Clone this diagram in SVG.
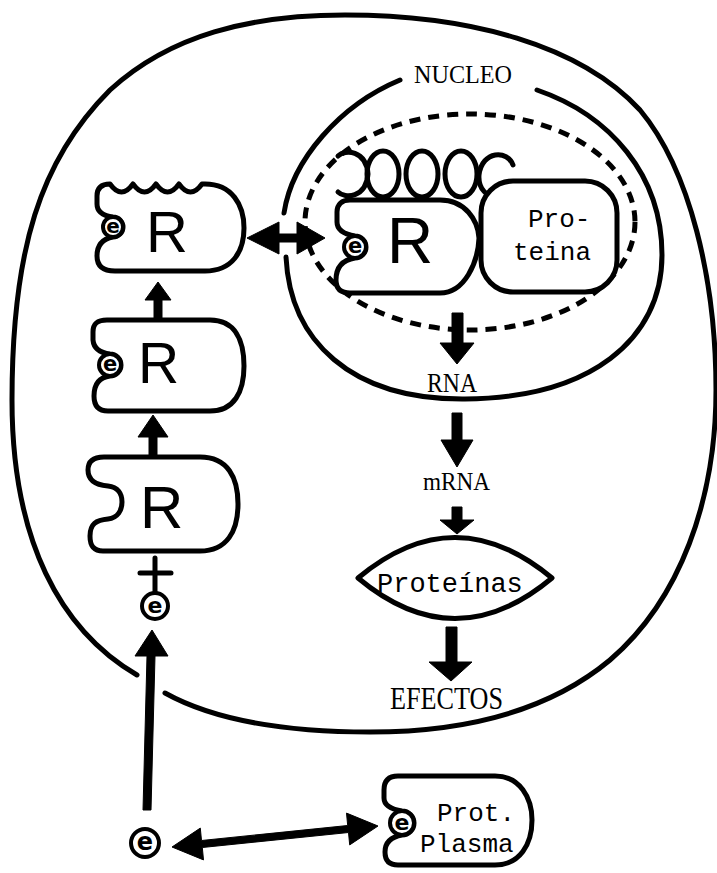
<svg xmlns="http://www.w3.org/2000/svg" width="717" height="873" viewBox="0 0 717 873">
<style>
.ol{fill:none;stroke:#000;stroke-width:5;stroke-linejoin:round;stroke-linecap:round}
.box{fill:#fff;stroke:#000;stroke-width:5;stroke-linejoin:round;stroke-linecap:round}
.dash{fill:none;stroke:#000;stroke-width:5;stroke-dasharray:11 8;stroke-linecap:butt}
.ec{fill:#fff;stroke:#000;stroke-width:4}
.e{font-family:"DejaVu Sans",sans-serif;font-weight:bold;text-anchor:middle;fill:#000}
.R{font-family:"Liberation Sans",Arial,sans-serif;fill:#000}
.cond{font-family:"Liberation Serif","Times New Roman",serif;fill:#000}
.mono{font-family:"Liberation Mono","Courier New",monospace;fill:#000}
.arr{fill:#000;stroke:#000;stroke-width:1;stroke-linejoin:round}
</style>
<rect width="717" height="873" fill="#fff"/>
<g id="cell">
<path class="ol" d="M137,675 C60,630 12,540 12,400 C12,250 40,160 110,90 C170,35 250,15 345,15 C470,15 580,45 640,110 C690,170 716,280 716,390 C716,500 680,600 610,660 C550,710 470,732 370,732 C280,732 210,718 165,693"/>
</g>
<g id="nucleo">
<path class="ol" d="M400,80 C340,105 292,160 284,213"/>
<path class="ol" d="M286,257 C290,340 350,400 465,399 C590,398 662,340 662,255 C662,175 610,115 537,90"/>
<text class="cond" x="414" y="83" font-size="26" textLength="98" lengthAdjust="spacingAndGlyphs">NUCLEO</text>
<ellipse class="dash" cx="470" cy="222" rx="165" ry="108"/>
</g>
<g id="cromatina">
<path class="ol" d="M338,156 C345,149 366,150 368,174 C366,198 345,199 338,192"/>
<ellipse class="ol" cx="383" cy="174" rx="16" ry="23"/>
<ellipse class="ol" cx="422" cy="174" rx="16" ry="23"/>
<ellipse class="ol" cx="461" cy="174" rx="16" ry="23"/>
<path class="ol" d="M513,165 C508,150 482,150 479,175 C478,190 488,197 497,197"/>
</g>
<g id="receptor-nuclear">
<path class="box" d="M337,212 C337,204 342,200 350,200 L440,200 C465,200 478,220 479,238 C478,262 465,293 440,293 L350,293 C340,293 336,288 336,280 Q336,261 355,258 A11,11 0 0 0 355,236 Q337,233 337,222 Z"/>
<circle class="ec" cx="355" cy="247" r="11"/>
<text class="e" x="355" y="253" font-size="21">e</text>
<text class="R" x="387" y="263" font-size="64">R</text>
</g>
<g id="proteina-nuclear">
<rect class="box" x="481" y="181" width="136" height="111" rx="32"/>
<text class="mono" x="528" y="227" font-size="26">Pro-</text>
<text class="mono" x="513" y="260" font-size="26">teina</text>
</g>
<g id="receptor-1">
<path class="box" d="M97,196 C97,188 101,184 110,184 Q121.5,200 133,184 Q144.5,200 156,184 Q167.5,200 179,184 Q190.5,200 202,184 L205,184 C232,184 244,205 244,228 C244,252 232,271 205,271 L115,271 C103,271 97,266 97,256 Q97,240 113,237 A10,10 0 0 0 113,217 Q97,215 97,204 Z"/>
<circle class="ec" cx="113" cy="227" r="10"/>
<text class="e" x="113" y="232.5" font-size="20">e</text>
<text class="R" x="146" y="252" font-size="58">R</text>
</g>
<g id="receptor-2">
<path class="box" d="M93,332 C93,323 98,320 107,320 L210,320 C235,320 244,340 244,366 C244,392 234,411 210,411 L108,411 C98,411 94,405 94,396 Q94,378 110,376 A11,11 0 0 0 110,354 Q94,352 93,340 Z"/>
<circle class="ec" cx="110" cy="365" r="11"/>
<text class="e" x="110" y="371" font-size="21">e</text>
<text class="R" x="138" y="383" font-size="57">R</text>
</g>
<g id="receptor-3">
<path class="box" d="M88,470 C88,461 94,457 104,457 L200,457 C228,457 238,478 238,504 C238,531 227,551 200,551 L103,551 C93,551 90,545 90,536 C90,524 96,520 108,519 C118,518 122,510 122,502 C122,494 118,487 108,486 C96,485 88,481 88,470 Z"/>
<text class="R" x="140" y="528" font-size="60">R</text>
</g>
<g id="esteroide-citoplasma">
<circle class="ec" cx="155" cy="606" r="13" stroke-width="4.5"/>
<text class="e" x="155" y="612.5" font-size="22">e</text>
</g>
<g id="esteroide-plasma">
<circle class="ec" cx="145" cy="843" r="14" stroke-width="5"/>
<text class="e" x="145" y="849.5" font-size="24">e</text>
</g>
<g id="prot-plasma">
<path class="box" d="M384,790 C384,780 389,776 398,776 L495,776 C520,776 532,798 532,820 C532,844 520,865 495,865 L398,865 C389,865 385,860 385,852 Q385,838 402,835 A12,12 0 0 0 402,811 Q384,808 384,798 Z"/>
<circle class="ec" cx="402" cy="823" r="12"/>
<text class="e" x="402" y="829.5" font-size="22">e</text>
<text class="mono" x="437" y="821" font-size="26">Prot.</text>
<text class="mono" x="420" y="852" font-size="26">Plasma</text>
</g>
<g id="rna">
<text class="cond" x="427" y="392" font-size="27" textLength="50" lengthAdjust="spacingAndGlyphs">RNA</text>
</g>
<g id="mrna">
<text class="cond" x="423" y="490" font-size="26" textLength="67" lengthAdjust="spacingAndGlyphs">mRNA</text>
</g>
<g id="proteinas">
<path class="box" d="M358,578 Q455,497 552,578 Q455,659 358,578 Z"/>
<text class="mono" x="377" y="592" font-size="27">Proteínas</text>
</g>
<g id="efectos">
<text class="cond" x="390" y="709" font-size="31" textLength="113" lengthAdjust="spacingAndGlyphs">EFECTOS</text>
</g>
<g id="connectors">
<path class="arr" d="M247,238 L279,222 L279,234 L297,234 L297,222 L325,238 L297,254 L297,242 L279,242 L279,254 Z"/>
<path class="arr" d="M158,282 L171,300 L162,300 L162,318 L154,318 L154,300 L145,300 Z"/>
<path class="arr" d="M153,415 L168,437 L157,437 L157,456 L149,456 L149,437 L138,437 Z"/>
<path class="ol" d="M155,558 L155,592 M140,573 L171,573"/>
<path class="arr" d="M152,630 L168,656 L155,656 L151,810 L143,810 L147,656 L135,656 Z"/>
<path class="arr" d="M172,847 L200.3,828.1 L201.5,840.5 L347.7,825.5 L346.5,813.1 L378,826 L349.7,844.9 L348.5,832.5 L202.3,847.5 L203.5,859.9 Z"/>
<path class="arr" d="M452,313 L463,313 L463,343 L474,343 L457,364 L440,343 L452,343 Z"/>
<path class="arr" d="M452,413 L462,413 L462,440 L473,440 L457,467 L441,440 L452,440 Z"/>
<path class="arr" d="M452,507 L462,507 L462,520 L474,520 L457,534 L440,520 L452,520 Z"/>
<path class="arr" d="M446,627 L457,627 L457,662 L472,662 L451,681 L429,662 L446,662 Z"/>
</g>
</svg>
